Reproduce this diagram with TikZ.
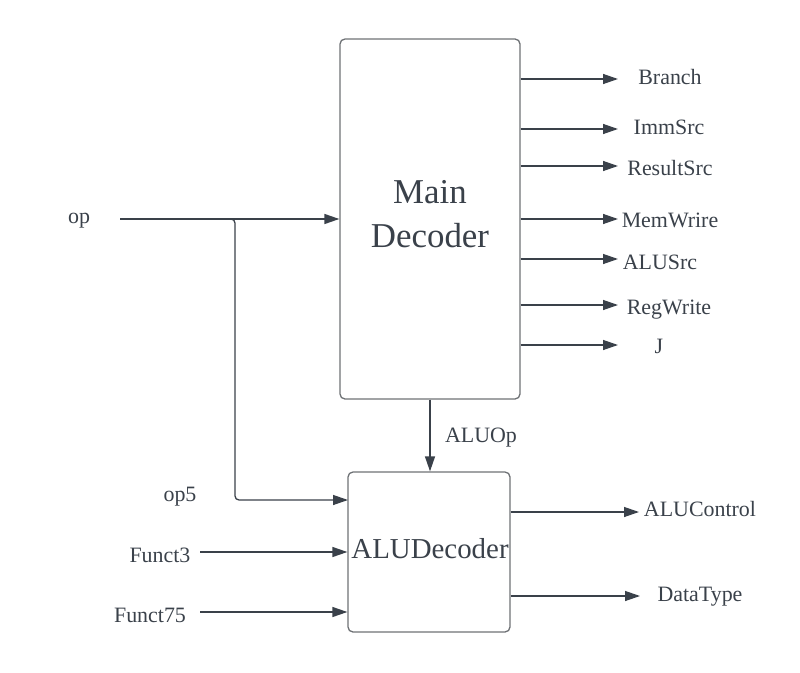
\documentclass[tikz,border=0pt]{standalone}
\usepackage{fontspec}
\setmainfont{Liberation Serif}
\usetikzlibrary{arrows.meta}
\definecolor{ink}{HTML}{3A414A}
\definecolor{boxline}{HTML}{6E7175}

\begin{document}
\begin{tikzpicture}[x=1bp, y=-1bp,
        sig/.style={draw=ink, line width=1.3bp, -{Triangle[length=15bp, width=10bp]}},
        block/.style={draw=boxline, line width=1.3bp, rounded corners=5bp, inner sep=0pt},
        lbl/.style={text=ink, font=\fontsize{22}{26}\selectfont, anchor=base, inner sep=0pt}]
        \useasboundingbox (0,0) rectangle (800,673);
        % the two decoder blocks
        \node[block, minimum width=180bp, minimum height=360bp] (main) at (430,219) {};
        \node[block, minimum width=162bp, minimum height=160bp] (alu) at (429,552) {};
        \node[lbl, font=\fontsize{35}{42}\selectfont] (mainA) at (430,203) {Main};
        \node[lbl, font=\fontsize{35}{42}\selectfont] (mainB) at (430,247) {Decoder};
        \node[lbl, font=\fontsize{29}{34}\selectfont] (aluname) at (430,558) {ALUDecoder};
        % outputs of the main decoder, top to bottom
        \foreach \sig/\y/\lx/\by in {Branch/79/670/85, ImmSrc/129/669/135, ResultSrc/166/670/175,
                MemWrire/219/670/227, ALUSrc/259/660/269, RegWrite/305/669/314, J/345/659/353} {
            \coordinate (\sig-end) at (618,\y);
            \draw[sig] (main.east |- \sig-end) -- (\sig-end);
            \node[lbl] (\sig) at (\lx,\by) {\sig};
        }
        % op goes to the main decoder and down to the alu decoder
        \node[lbl] (op) at (79,223) {op};
        \coordinate (opin) at (120,219);
        \coordinate (split) at (235,219);
        \coordinate (op5in) at (348,500);
        \draw[sig] (opin) -- (main.west |- opin);
        \draw[sig, rounded corners=4bp] (opin) -- (split) -- (split |- op5in) -- (op5in);
        \node[lbl] (op5) at (180,501) {op5};
        % funct inputs
        \node[lbl] (funct3) at (160,562) {Funct3};
        \coordinate (funct3in) at (200,552);
        \draw[sig] (funct3in) -- (alu.west |- funct3in);
        \node[lbl] (funct75) at (150,622) {Funct75};
        \coordinate (funct75in) at (200,612);
        \draw[sig] (funct75in) -- (alu.west |- funct75in);
        % ALUOp between the blocks
        \draw[sig] (main.south) -- (main.south |- alu.north);
        \node[lbl] (aluop) at (481,442) {ALUOp};
        % outputs of the alu decoder
        \coordinate (aluctrl-end) at (639,512);
        \draw[sig] (alu.east |- aluctrl-end) -- (aluctrl-end);
        \node[lbl] (aluctrl) at (700,516) {ALUControl};
        \coordinate (dtype-end) at (640,596);
        \draw[sig] (alu.east |- dtype-end) -- (dtype-end);
        \node[lbl] (dtype) at (700,601) {DataType};
    \end{tikzpicture}
\end{document}
